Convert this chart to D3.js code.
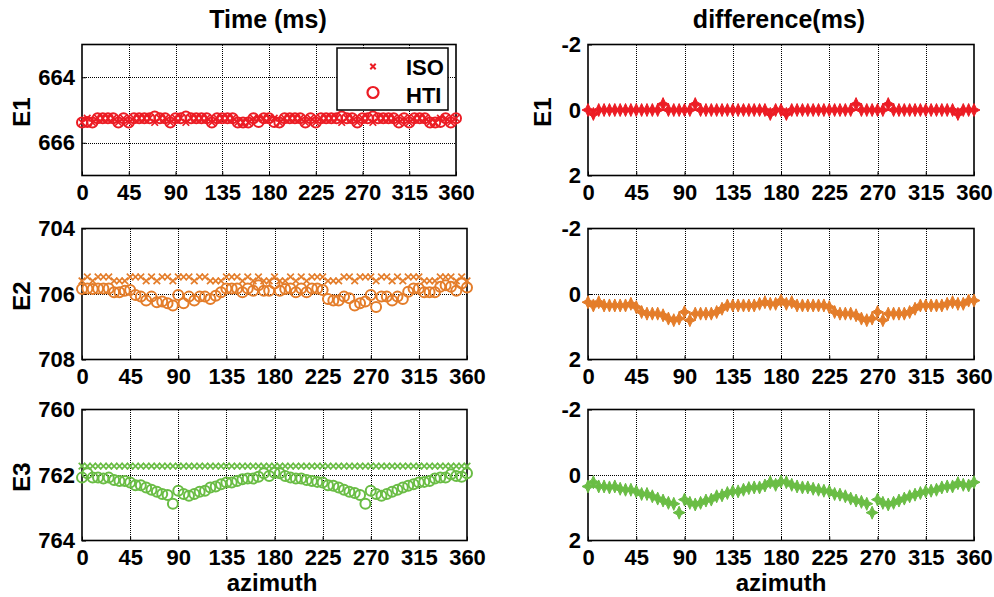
<!DOCTYPE html>
<html>
<head>
<meta charset="utf-8">
<script src="https://cdn.jsdelivr.net/npm/d3@7"></script>
<style>
  body { margin: 0; background: #fff; }
  text { font-family: "Liberation Sans", Arial, sans-serif; font-weight: bold; fill: #000; }
</style>
</head>
<body>
<script>
// azimuth (deg)
var azimuth = [0,5,10,15,20,25,30,35,40,45,50,55,60,65,70,75,80,85,90,95,100,105,110,115,120,125,130,135,140,145,150,155,160,165,170,175,180,
  185,190,195,200,205,210,215,220,225,230,235,240,245,250,255,260,265,270,275,280,285,290,295,300,305,310,315,320,325,330,335,340,345,350,355,360];
var xTicks = [0,45,90,135,180,225,270,315,360];

// E1 (ms)
var isoE1 = [665.38,665.25,665.38,665.25,665.25,665.25,665.25,665.38,665.25,665.38,665.25,665.25,665.25,665.25,665.38,665.25,665.25,665.38,665.25,665.25,665.38,665.25,665.25,665.25,665.25,665.38,665.25,665.25,665.25,665.25,665.38,665.38,665.38,665.25,665.25,665.25,665.25,
  665.25,665.38,665.25,665.25,665.25,665.25,665.38,665.25,665.38,665.25,665.25,665.25,665.25,665.38,665.25,665.25,665.38,665.25,665.25,665.38,665.25,665.25,665.25,665.25,665.38,665.25,665.38,665.25,665.25,665.25,665.38,665.38,665.25,665.25,665.38,665.25];
var htiE1 = [665.38,665.37,665.38,665.25,665.25,665.25,665.25,665.38,665.25,665.38,665.25,665.25,665.25,665.25,665.20,665.25,665.25,665.38,665.25,665.25,665.20,665.25,665.25,665.25,665.25,665.38,665.25,665.25,665.25,665.25,665.38,665.38,665.38,665.25,665.37,665.25,665.25,
  665.37,665.38,665.25,665.25,665.25,665.25,665.38,665.25,665.38,665.25,665.25,665.25,665.25,665.20,665.25,665.25,665.38,665.25,665.25,665.20,665.25,665.25,665.25,665.25,665.38,665.25,665.38,665.25,665.25,665.25,665.38,665.38,665.37,665.25,665.38,665.25];
var diffE1 = [0,0.12,0,0,0,0,0,0,0,0,0,0,0,0,-0.18,0,0,0,0,0,-0.18,0,0,0,0,0,0,0,0,0,0,0,0,0,0.12,0,0,
  0.12,0,0,0,0,0,0,0,0,0,0,0,0,-0.18,0,0,0,0,0,-0.18,0,0,0,0,0,0,0,0,0,0,0,0,0.12,0,0,0];

// E2 (ms)
var isoE2 = [705.60,705.48,705.60,705.48,705.48,705.48,705.60,705.60,705.60,705.48,705.48,705.48,705.60,705.48,705.60,705.48,705.48,705.60,705.48,705.48,705.48,705.60,705.48,705.48,705.60,705.60,705.60,705.48,705.48,705.48,705.60,705.48,705.60,705.48,705.60,705.60,705.48,
  705.60,705.60,705.48,705.60,705.48,705.60,705.48,705.48,705.48,705.60,705.60,705.60,705.48,705.48,705.60,705.48,705.48,705.48,705.60,705.48,705.48,705.60,705.48,705.60,705.48,705.48,705.48,705.60,705.60,705.60,705.48,705.48,705.48,705.60,705.48,705.60];
var htiE2 = [705.85,705.83,705.85,705.83,705.83,705.83,705.95,705.95,705.90,705.88,706.03,706.08,706.20,706.08,706.25,706.23,706.28,706.35,706.03,706.28,706.08,706.20,706.08,706.08,706.15,706.05,705.95,705.83,705.83,705.83,705.95,705.83,705.90,705.73,705.90,705.90,705.68,
  705.90,705.85,705.83,705.95,705.83,705.95,705.83,705.83,705.88,706.15,706.20,706.20,706.08,706.13,706.35,706.28,706.23,706.03,706.40,706.08,706.08,706.20,706.08,706.15,705.93,705.83,705.83,705.95,705.95,705.95,705.78,705.73,705.78,705.90,705.68,705.80];
var diffE2 = [0.25,0.35,0.25,0.35,0.35,0.35,0.35,0.35,0.30,0.40,0.55,0.60,0.60,0.60,0.65,0.75,0.80,0.75,0.55,0.80,0.60,0.60,0.60,0.60,0.55,0.45,0.35,0.35,0.35,0.35,0.35,0.35,0.30,0.25,0.30,0.30,0.20,
  0.30,0.25,0.35,0.35,0.35,0.35,0.35,0.35,0.40,0.55,0.60,0.60,0.60,0.65,0.75,0.80,0.75,0.55,0.80,0.60,0.60,0.60,0.60,0.55,0.45,0.35,0.35,0.35,0.35,0.35,0.30,0.25,0.30,0.30,0.20,0.20];

// E3 (ms)
var isoE3 = [761.73,761.73,761.73,761.73,761.73,761.73,761.73,761.73,761.73,761.73,761.73,761.73,761.73,761.73,761.73,761.73,761.73,761.73,761.73,761.73,761.73,761.73,761.73,761.73,761.73,761.73,761.73,761.73,761.73,761.73,761.73,761.73,761.73,761.73,761.73,761.73,761.73,
  761.73,761.73,761.73,761.73,761.73,761.73,761.73,761.73,761.73,761.73,761.73,761.73,761.73,761.73,761.73,761.73,761.73,761.73,761.73,761.73,761.73,761.73,761.73,761.73,761.73,761.73,761.73,761.73,761.73,761.73,761.73,761.73,761.73,761.73,761.73,761.73];
var htiE3 = [762.08,761.95,762.08,762.08,762.11,762.08,762.15,762.18,762.18,762.23,762.31,762.31,762.38,762.45,762.51,762.58,762.61,762.88,762.48,762.58,762.63,762.58,762.51,762.48,762.38,762.35,762.28,762.23,762.23,762.18,762.13,762.11,762.11,762.05,761.95,762.03,761.93,
  761.95,762.03,762.08,762.11,762.11,762.15,762.18,762.21,762.23,762.31,762.33,762.38,762.45,762.51,762.55,762.61,762.88,762.48,762.58,762.63,762.58,762.51,762.45,762.38,762.33,762.28,762.23,762.21,762.18,762.11,762.08,762.08,761.98,762.03,762.05,761.95];
var diffE3 = [0.35,0.22,0.35,0.35,0.38,0.35,0.42,0.45,0.45,0.50,0.58,0.58,0.65,0.72,0.78,0.85,0.88,1.15,0.75,0.85,0.90,0.85,0.78,0.75,0.65,0.62,0.55,0.50,0.50,0.45,0.40,0.38,0.38,0.32,0.22,0.30,0.20,
  0.22,0.30,0.35,0.38,0.38,0.42,0.45,0.48,0.50,0.58,0.60,0.65,0.72,0.78,0.82,0.88,1.15,0.75,0.85,0.90,0.85,0.78,0.72,0.65,0.60,0.55,0.50,0.48,0.45,0.38,0.35,0.35,0.25,0.30,0.32,0.22];

var rowNames = ["E1", "E2", "E3"];
var rowColors = ["#ec1c24", "#e47d2a", "#6abd45"];
var timeTicks = [[664, 666], [704, 706, 708], [760, 762, 764]];
var timeDomains = [[663, 667], [704, 708], [760, 764]];
var diffTicks = [-2, 0, 2];
var diffDomain = [-2, 2];
var legendLabels = ["ISO", "HTI"];

var svg = d3.select("body")
  .append("svg")
  .attr("width", 994)
  .attr("height", 597);

// panel frames
var rowsY = [[44.5, 175.5], [228.5, 359.5], [409.5, 540.5]];
var leftX = [[82, 456], [82, 467], [82, 467]];
var rightX = [588, 974];

var crossPath = "M-3.3,-3.3L3.3,3.3M-3.3,3.3L3.3,-3.3";
var starPath = "M0,-6.5L2,-2L6,0L2,2L0,6.5L-2,2L-6,0L-2,-2Z";

function drawFrame(x, y, yTickVals) {
  var g = svg.append("g").attr("shape-rendering", "crispEdges");
  var x0 = x.range()[0], x1 = x.range()[1];
  var y0 = y.range()[0], y1 = y.range()[1];

  // dotted grid
  g.selectAll(".gx")
    .data(xTicks.slice(1, -1))
    .enter().append("line")
    .attr("x1", d => Math.round(x(d)) + 0.5).attr("x2", d => Math.round(x(d)) + 0.5)
    .attr("y1", y0).attr("y2", y1)
    .attr("stroke", "#000").attr("stroke-width", 1)
    .attr("stroke-dasharray", "1,1");
  g.selectAll(".gy")
    .data(yTickVals.filter(d => y(d) > y0 + 1 && y(d) < y1 - 1))
    .enter().append("line")
    .attr("x1", x0).attr("x2", x1)
    .attr("y1", d => Math.round(y(d)) + 0.5).attr("y2", d => Math.round(y(d)) + 0.5)
    .attr("stroke", "#000").attr("stroke-width", 1)
    .attr("stroke-dasharray", "1,1");

  // axes with inward ticks
  var bottom = d3.axisBottom(x).tickValues(xTicks).tickFormat(d => String(d))
    .tickSizeInner(-4).tickSizeOuter(0).tickPadding(9);
  var ax = svg.append("g").attr("transform", `translate(0,${y1})`).call(bottom);
  ax.select(".domain").remove();
  ax.selectAll("text").style("font-size", "22px").attr("dy", "0.71em");

  var left = d3.axisLeft(y).tickValues(yTickVals).tickFormat(d => String(d))
    .tickSizeInner(-4).tickSizeOuter(0).tickPadding(7);
  var ay = svg.append("g").attr("transform", `translate(${x0},0)`).call(left);
  ay.select(".domain").remove();
  ay.selectAll("text").style("font-size", "22px");

  svg.append("rect")
    .attr("x", x0).attr("y", y0)
    .attr("width", x1 - x0).attr("height", y1 - y0)
    .attr("fill", "none").attr("stroke", "#000").attr("stroke-width", 1.6);
}

var isoAll = [isoE1, isoE2, isoE3];
var htiAll = [htiE1, htiE2, htiE3];
var diffAll = [diffE1, diffE2, diffE3];

rowNames.forEach(function (name, i) {
  var color = rowColors[i];

  // left: time
  var xL = d3.scaleLinear().domain([0, 360]).range(leftX[i]);
  var yL = d3.scaleLinear().domain(timeDomains[i]).range(rowsY[i]);
  drawFrame(xL, yL, timeTicks[i]);

  var pts = svg.append("g");
  pts.selectAll(".iso")
    .data(azimuth)
    .enter().append("path")
    .attr("d", crossPath)
    .attr("transform", (d, k) => `translate(${xL(d)},${yL(isoAll[i][k])})`)
    .attr("stroke", color).attr("stroke-width", 1.7).attr("fill", "none");
  pts.selectAll(".hti")
    .data(azimuth)
    .enter().append("circle")
    .attr("cx", d => xL(d))
    .attr("cy", (d, k) => yL(htiAll[i][k]))
    .attr("r", 5)
    .attr("fill", "none").attr("stroke", color).attr("stroke-width", 2);

  // right: difference
  var xR = d3.scaleLinear().domain([0, 360]).range(rightX);
  var yR = d3.scaleLinear().domain(diffDomain).range(rowsY[i]);
  drawFrame(xR, yR, diffTicks);

  svg.append("g").selectAll("path")
    .data(azimuth)
    .enter().append("path")
    .attr("d", starPath)
    .attr("transform", (d, k) => `translate(${xR(d)},${yR(diffAll[i][k])})`)
    .attr("fill", color).attr("stroke", color).attr("stroke-width", 1);

  // row label
  var cy = (rowsY[i][0] + rowsY[i][1]) / 2 + 2;
  svg.append("text")
    .attr("transform", `translate(30,${cy}) rotate(-90)`)
    .attr("text-anchor", "middle")
    .style("font-size", "24px")
    .text(name);
  if (i === 0) {
    svg.append("text")
      .attr("transform", `translate(551,${cy}) rotate(-90)`)
      .attr("text-anchor", "middle")
      .style("font-size", "24px")
      .text(name);
  }
});

// titles
svg.append("text").attr("x", 268).attr("y", 28).attr("text-anchor", "middle")
  .style("font-size", "25px").text("Time (ms)");
svg.append("text").attr("x", 779).attr("y", 28).attr("text-anchor", "middle")
  .style("font-size", "25px").text("difference(ms)");

// x labels
svg.append("text").attr("x", 272).attr("y", 591).attr("text-anchor", "middle")
  .style("font-size", "24px").text("azimuth");
svg.append("text").attr("x", 781).attr("y", 591).attr("text-anchor", "middle")
  .style("font-size", "24px").text("azimuth");

// legend
var lg = svg.append("g");
lg.append("rect").attr("x", 337).attr("y", 48).attr("width", 111).attr("height", 62)
  .attr("fill", "#fff").attr("stroke", "#000").attr("stroke-width", 1.5);
lg.append("path").attr("d", "M-2.7,-2.7L2.7,2.7M-2.7,2.7L2.7,-2.7").attr("transform", "translate(373,66.5)")
  .attr("stroke", rowColors[0]).attr("stroke-width", 2).attr("fill", "none");
lg.append("circle").attr("cx", 373).attr("cy", 92.5).attr("r", 5.5)
  .attr("fill", "none").attr("stroke", rowColors[0]).attr("stroke-width", 2.2);
lg.selectAll(".lt")
  .data(legendLabels)
  .enter().append("text")
  .attr("x", 406)
  .attr("y", (d, k) => 75 + k * 28)
  .style("font-size", "22px")
  .text(d => d);
</script>
</body>
</html>
